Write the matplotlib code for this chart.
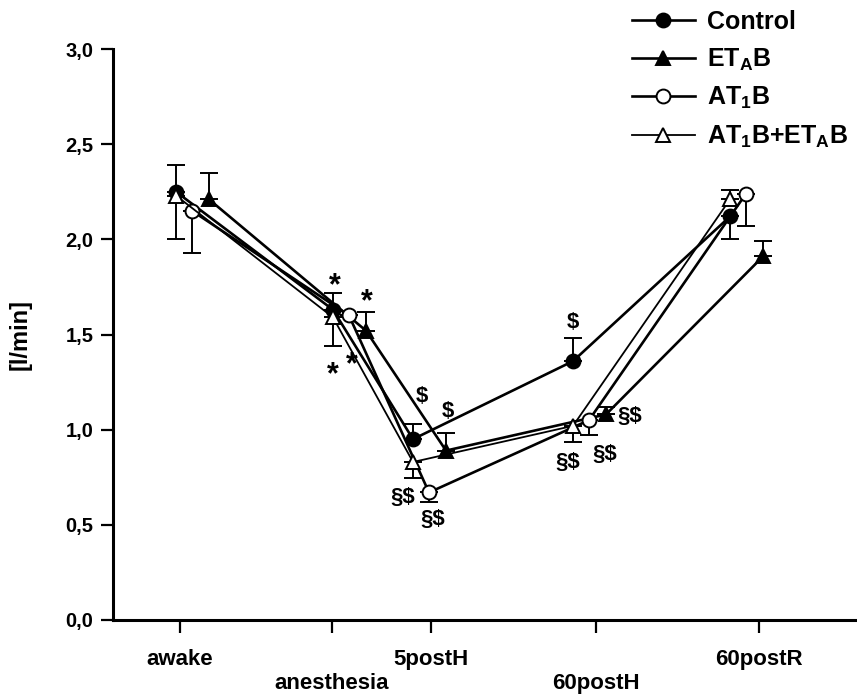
import matplotlib
matplotlib.use("Agg")
import matplotlib.pyplot as plt
import matplotlib.transforms as mtransforms
from matplotlib.lines import Line2D

plt.rcParams['font.family'] = ['Liberation Sans', 'DejaVu Sans']
plt.rcParams['font.weight'] = 'bold'
plt.rcParams['mathtext.fontset'] = 'custom'
plt.rcParams['mathtext.rm'] = 'Liberation Sans:bold'
plt.rcParams['mathtext.bf'] = 'Liberation Sans:bold'
plt.rcParams['mathtext.it'] = 'Liberation Sans:bold'

# ---- data ----
categories = ["awake", "anesthesia", "5postH", "60postH", "60postR"]
tick_pos = [6.7, 21.9, 31.8, 48.3, 64.6]
point_pos = [6.3, 22.0, 30.0, 46.0, 61.7]

series_names = ["Control", r"ET$_\mathbf{A}$B", r"AT$_\mathbf{1}$B", r"AT$_\mathbf{1}$B+ET$_\mathbf{A}$B"]
x_offsets = [0.0, 3.3, 1.6, 0.0]

control = [2.25, 1.63, 0.95, 1.36, 2.12]
etab = [2.21, 1.52, 0.89, 1.08, 1.91]
at1b = [2.15, 1.60, 0.67, 1.05, 2.24]
at1b_etab = [2.23, 1.59, 0.83, 1.02, 2.21]

control_err_lo = [0, 0, 0, 0, 0.12]
control_err_hi = [0.14, 0.09, 0.08, 0.12, 0]
etab_err_lo = [0, 0, 0, 0, 0]
etab_err_hi = [0.14, 0.10, 0.09, 0.04, 0.08]
at1b_err_lo = [0.22, 0.0, 0.05, 0.08, 0.17]
at1b_err_hi = [0, 0, 0, 0, 0]
at1b_etab_err_lo = [0.23, 0.15, 0.085, 0.085, 0]
at1b_etab_err_hi = [0, 0, 0, 0, 0.05]

yticks = [0.0, 0.5, 1.0, 1.5, 2.0, 2.5, 3.0]
ytick_labels = ["0,0", "0,5", "1,0", "1,5", "2,0", "2,5", "3,0"]

annotations = [
    ("*", 22.2, 1.774), ("*", 25.4, 1.69), ("*", 22.0, 1.305), ("*", 23.9, 1.358),
    ("$", 30.9, 1.174), ("$", 33.5, 1.095), ("$", 46.0, 1.563),
    ("§$", 29.0, 0.642), ("§$", 32.0, 0.526), ("§$", 51.7, 1.068),
    ("§$", 45.5, 0.826), ("§$", 49.2, 0.868),
]

values = [control, etab, at1b, at1b_etab]
err_lo = [control_err_lo, etab_err_lo, at1b_err_lo, at1b_etab_err_lo]
err_hi = [control_err_hi, etab_err_hi, at1b_err_hi, at1b_etab_err_hi]
markers = ['o', '^', 'o', '^']
facecolors = ['black', 'black', 'white', 'white']
linewidths = [1.9, 1.9, 1.9, 1.3]
msizes = [10, 10, 10, 10]

# ---- figure ----
fig = plt.figure(figsize=(8.57, 6.94), dpi=100)
ax = fig.add_axes([113/857, 74/694, 744/857, 571/694])

for i in range(4):
    xs = [p + x_offsets[i] for p in point_pos]
    ax.errorbar(xs, values[i], yerr=[err_lo[i], err_hi[i]], fmt='none',
                ecolor='black', elinewidth=1.4, capsize=6.5, capthick=1.4, zorder=2)
    ax.plot(xs, values[i], color='black', lw=linewidths[i], marker=markers[i],
            markersize=msizes[i], markerfacecolor=facecolors[i],
            markeredgecolor='black', markeredgewidth=1.4, zorder=3)

for txt, x, y in annotations:
    fs = 22 if txt == "*" else 16
    yy = y - 0.02 if txt == "*" else y
    ax.text(x, yy, txt, ha='center', va='center', fontsize=fs, fontweight='bold')

ax.set_xlim(0, 74.4)
ax.set_ylim(0, 3.0)
ax.set_yticks(yticks)
ax.set_yticklabels(ytick_labels)
ax.set_xticks(tick_pos)
xlabels = [c if k % 2 == 0 else "\n" + c for k, c in enumerate(categories)]
ax.set_xticklabels(xlabels, linespacing=1.2)
label_dx = [6, -5, 2, 12, -22]
for lab, dx in zip(ax.get_xticklabels(), label_dx):
    lab.set_transform(lab.get_transform() + mtransforms.ScaledTranslation(dx/100, 0, fig.dpi_scale_trans))

ax.tick_params(axis='both', direction='out', width=1.6, length=9)
ax.tick_params(axis='x', pad=12, labelsize=16)
ax.tick_params(axis='y', pad=5, labelsize=14.5)
for lab in ax.get_xticklabels() + ax.get_yticklabels():
    lab.set_fontweight('bold')

for s in ['top', 'right']:
    ax.spines[s].set_visible(False)
for s in ['left', 'bottom']:
    ax.spines[s].set_linewidth(2.2)

ax.set_ylabel("[l/min]", fontsize=17, fontweight='bold', labelpad=24)

handles = [Line2D([], [], color='black', lw=linewidths[i], marker=markers[i],
                  markersize=msizes[i], markerfacecolor=facecolors[i],
                  markeredgecolor='black', markeredgewidth=1.4) for i in range(4)]
leg = fig.legend(handles, series_names, loc='upper left', bbox_to_anchor=(632/857, 1 - 10/694),
                 frameon=False, fontsize=18, handlelength=2.5, handletextpad=0.5,
                 labelspacing=0.5, borderpad=0, borderaxespad=0)
for t in leg.get_texts():
    t.set_fontweight('bold')

fig.savefig("out.png", dpi=100)
